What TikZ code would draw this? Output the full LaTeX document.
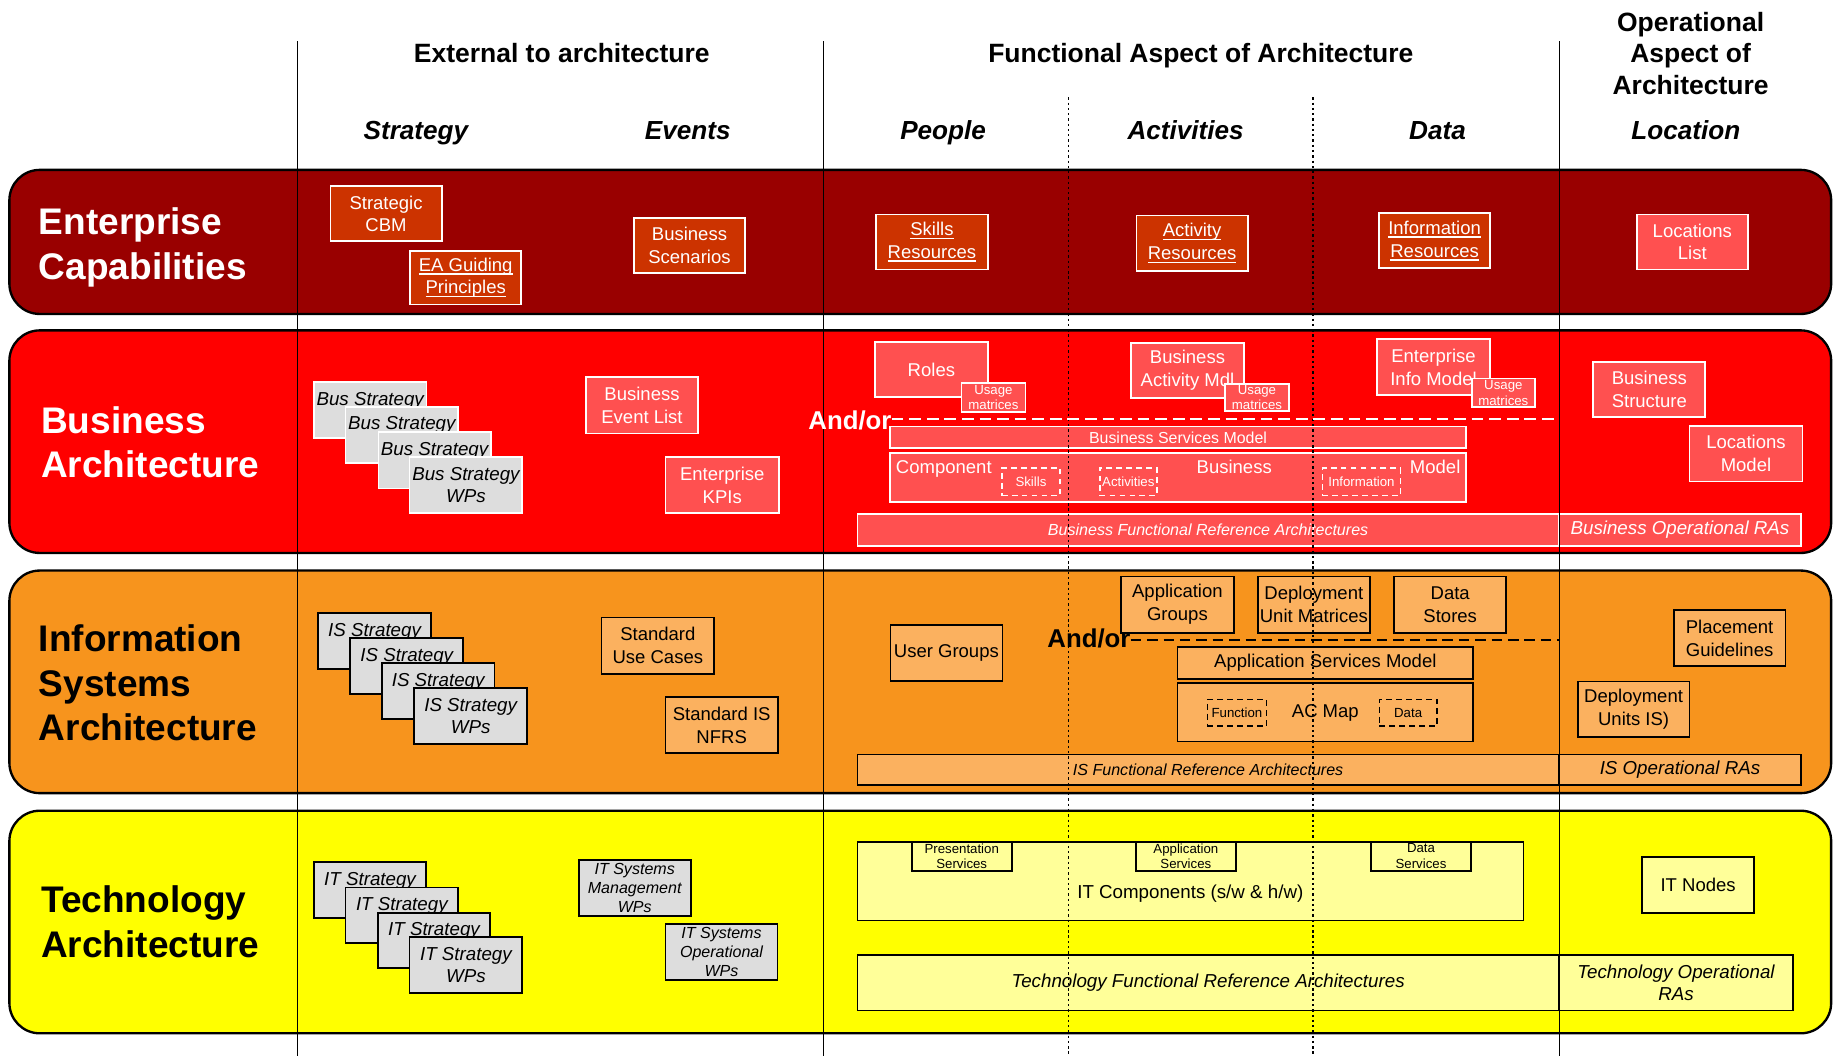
\documentclass[tikz,border=0pt]{standalone}
\usepackage{fontspec}
\setmainfont{Liberation Sans}
\definecolor{encol}{HTML}{990000}
\definecolor{enfill}{HTML}{CC3300}
\definecolor{bacol}{HTML}{FF0000}
\definecolor{bafill}{HTML}{FF5050}
\definecolor{iscol}{HTML}{F7941D}
\definecolor{isfill}{HTML}{FBB15F}
\definecolor{tecol}{HTML}{FFFF00}
\definecolor{tefill}{HTML}{FFFF99}
\definecolor{grfill}{HTML}{DDDDDD}
\newcommand\fsz[2]{\fontsize{#1}{#2}\selectfont}
\newcommand\myul[1]{\leavevmode\setbox0\hbox{#1}\rlap{\rule[-3pt]{\wd0}{1.2pt}}\box0}
\newcommand\BX[7]{\node[#1, minimum width={(#5)-(#3)}, minimum height={(#6)-(#4)}] (#2) at ({((#3)+(#5))/2},{((#4)+(#6))/2}) {#7};}
\begin{document}
\begin{tikzpicture}[x=1pt,y=-1pt,
  band/.style={draw=black, line width=2pt, rounded corners=26pt, inner sep=0},
  box/.style={inner sep=0, align=center, line width=1.5pt, font=\fsz{15.8}{19.5}},
  enb/.style={box, draw=white, fill=enfill, text=white},
  bab/.style={box, draw=white, fill=bafill, text=white},
  isb/.style={box, draw=black, fill=isfill, text=black},
  teb/.style={box, draw=black, fill=tefill, text=black},
  gw/.style={box, draw=white, fill=grfill, text=black, font=\fsz{16}{19.5}\itshape},
  gk/.style={box, draw=black, fill=grfill, text=black, font=\fsz{16}{19}\itshape},
  small/.style={font=\fsz{11.3}{13.4}},
  itl/.style={font=\fsz{13.7}{16}\itshape},
  itb/.style={font=\fsz{16}{18.5}\itshape},
  dbw/.style={box, draw=white, dash pattern=on 5pt off 3.5pt, line width=1.5pt, text=white, font=\fsz{11.3}{13}},
  dbk/.style={box, draw=black, dash pattern=on 5pt off 3.5pt, line width=1.5pt, text=black, font=\fsz{11.3}{13}},
  lab/.style={font=\fsz{31.6}{38}\bfseries, align=left, inner sep=0, anchor=west},
  hdr/.style={font=\fsz{22.6}{27}\bfseries, inner sep=0, align=center},
  col/.style={font=\fsz{22.3}{27}\bfseries\itshape, inner sep=0, anchor=base},
  andor/.style={font=\fsz{22}{27}\bfseries, inner sep=0, anchor=base},
  vline/.style={line width=1.4pt, black},
  dline/.style={line width=1.6pt, black, dash pattern=on 2pt off 2.5pt},
  plain/.style={inner sep=0, font=\fsz{15.8}{19.5}}
]
\useasboundingbox (0,0) rectangle (1568,901);
\fill[white] (0,0) rectangle (1568,901);

% headers
\node[hdr, anchor=base] (hExt) at (479.5,53.5) {External to architecture};
\node[hdr, anchor=base] (hFun) at (1025,53.5) {Functional Aspect of Architecture};
\node[hdr] (hOp) at (1443,45.5) {Operational\\Aspect of\\Architecture};
\node[col] (cStr) at (355,119.5) {Strategy};
\node[col] (cEv) at (587,119.5) {Events};
\node[col] (cPe) at (805,119.5) {People};
\node[col] (cAc) at (1012,119.5) {Activities};
\node[col] (cDa) at (1227,119.5) {Data};
\node[col] (cLo) at (1439,119.5) {Location};

% bands
\BX{band, fill=encol}{bandE}{8}{145}{1563}{268}{}
\BX{band, fill=bacol}{bandB}{8}{282}{1563}{472}{}
\BX{band, fill=iscol}{bandI}{8}{487}{1563}{677}{}
\BX{band, fill=tecol}{bandT}{8}{692}{1563}{882}{}

\node[lab, text=white] (lE) at (33,211) {Enterprise\\Capabilities};
\node[lab, text=white] (lB) at (35,377.5) {Business\\Architecture};
\node[lab, text=black] (lI) at (33,583) {Information\\Systems\\Architecture};
\node[lab, text=black] (lT) at (35,787) {Technology\\Architecture};

% Enterprise capabilities
\BX{enb}{eCBM}{282}{159}{377}{206}{Strategic\\CBM}
\BX{enb}{eEAG}{350}{214}{445}{260}{\myul{EA Guiding}\\\myul{Principles}}
\BX{enb}{eBS}{541}{186}{636}{233}{Business\\Scenarios}
\BX{enb}{eSR}{748}{183}{843}{230}{\myul{Skills}\\\myul{Resources}}
\BX{enb}{eAR}{970}{184}{1065}{231}{\myul{Activity}\\\myul{Resources}}
\BX{enb}{eIR}{1177}{182}{1272}{229}{\myul{Information}\\\myul{Resources}}
\BX{bab}{eLL}{1397}{183}{1492}{230}{Locations\\List}

% Business architecture
\BX{gw}{bS1}{268}{326}{364}{374}{Bus Strategy\\WPs}
\BX{gw}{bS2}{295}{347.5}{391}{395}{Bus Strategy\\WPs}
\BX{gw}{bS3}{323}{369}{419}{417}{Bus Strategy\\WPs}
\BX{gw}{bS4}{349.6}{390}{445.8}{438}{Bus Strategy\\WPs}
\BX{bab}{bEL}{500}{322}{596}{370}{Business\\Event List}
\BX{bab}{bKPI}{568}{390}{665}{438}{Enterprise\\KPIs}
\BX{bab}{bRo}{747}{292}{843}{339}{Roles}
\BX{bab, small}{bRoU}{820.6}{327}{875.3}{351.4}{Usage\\matrices}
\BX{bab}{bBAM}{965.6}{292.5}{1061.6}{340}{Business\\Activity Mdl}
\BX{bab, small}{bBAMU}{1045.8}{327.8}{1100}{350.8}{Usage\\matrices}
\BX{bab}{bEIM}{1175.6}{289.6}{1271.6}{337}{Enterprise\\Info Model}
\BX{bab, small}{bEIMU}{1256.4}{323}{1310}{347.4}{Usage\\matrices}
\BX{bab}{bBSt}{1360}{308.7}{1455.6}{356.2}{Business\\Structure}
\BX{bab}{bLM}{1442}{363.6}{1538.6}{411}{Locations\\Model}
\BX{bab, font=\fsz{13.6}{16}}{bBSM}{759.7}{364}{1251.3}{382.7}{Business Services Model}
\BX{bab}{bCBM}{759.7}{386.4}{1251.3}{428.2}{}
\node[plain, text=white, anchor=base] (bCBMa) at (805.6,404) {Component};
\node[plain, text=white, anchor=base] (bCBMb) at (1053.5,404) {Business};
\node[plain, text=white, anchor=base] (bCBMc) at (1225,404) {Model};
\BX{dbw}{bSk}{855}{399.7}{905}{423}{Skills}
\BX{dbw}{bAc}{938.6}{399.7}{987.6}{423}{Activities}
\BX{dbw}{bIn}{1128.8}{399.7}{1195.4}{423}{Information}
\BX{bab, itl}{bFRA}{732}{439}{1330.4}{466}{Business Functional Reference Architectures}
\BX{bab, itb}{bORA}{1330.4}{439}{1537.5}{466}{Business Operational RAs}

% Information systems architecture
\BX{gk}{iS1}{271.5}{523}{368}{571}{IS Strategy\\WPs}
\BX{gk}{iS2}{299}{544.3}{395.4}{592.4}{IS Strategy\\WPs}
\BX{gk}{iS3}{326}{566}{422}{613.7}{IS Strategy\\WPs}
\BX{gk}{iS4}{353.5}{587}{450}{635}{IS Strategy\\WPs}
\BX{isb}{iSUC}{513.4}{527}{609.6}{575}{Standard\\Use Cases}
\BX{isb}{iNFR}{568}{595}{664}{643}{Standard IS\\NFRS}
\BX{isb}{iUG}{760}{533.5}{855.6}{581}{User Groups}
\BX{isb}{iAG}{957}{492}{1053}{540}{Application\\Groups}
\BX{isb}{iDUM}{1073.5}{492}{1169.4}{540}{Deployment\\Unit Matrices}
\BX{isb}{iDS}{1190}{492}{1285.7}{540}{Data\\Stores}
\BX{isb}{iASM}{1005}{552.5}{1257.5}{579.6}{Application Services Model}
\BX{isb}{iACM}{1005}{583.3}{1257.5}{633}{AC Map}
\BX{dbk}{iFn}{1030.6}{597}{1081}{620}{Function}
\BX{dbk}{iDa}{1177.4}{597}{1226.5}{620}{Data}
\BX{isb}{iPG}{1428.6}{520.7}{1524}{568.5}{Placement\\Guidelines}
\BX{isb}{iDU}{1346.7}{581.8}{1442}{628.8}{Deployment\\Units IS)}
\BX{isb, itl}{iFRA}{732}{644}{1330.4}{670}{IS Functional Reference Architectures}
\BX{isb, itb}{iORA}{1330.4}{644}{1537.5}{670}{IS Operational RAs}

% Technology architecture
\BX{gk}{tS1}{268}{735.8}{363.7}{783.5}{IT Strategy\\WPs}
\BX{gk}{tS2}{295}{757.6}{391}{805}{IT Strategy\\WPs}
\BX{gk}{tS3}{322.6}{779}{418.3}{826.5}{IT Strategy\\WPs}
\BX{gk}{tS4}{349.6}{800}{445.8}{847.8}{IT Strategy\\WPs}
\BX{gk, font=\fsz{13.7}{16}\itshape}{tSMW}{493.9}{734}{589.6}{781.8}{IT Systems\\Management\\WPs}
\BX{gk, font=\fsz{13.7}{16}\itshape}{tSOW}{568}{788.7}{663.7}{836.5}{IT Systems\\Operational\\WPs}
\BX{teb}{tITC}{732}{718.4}{1300.4}{785.8}{}
\node[plain, font=\fsz{16}{19}] (tITCt) at (1016,763) {IT Components (s/w \& h/w)};
\BX{teb, small}{tPS}{778.3}{718.4}{863.5}{743.5}{Presentation\\Services}
\BX{teb, small}{tAS}{969.6}{718.4}{1054.8}{743.5}{Application\\Services}
\BX{teb, small}{tDS}{1170}{718.4}{1255.8}{743.5}{Data\\Services}
\BX{teb}{tITN}{1401.5}{731.8}{1497.4}{779.6}{IT Nodes}
\BX{teb, itb}{tFRA}{732}{815}{1330.4}{862.6}{Technology Functional Reference Architectures}
\BX{teb, itb}{tORA}{1330.4}{815}{1530.7}{862.6}{Technology Operational\\RAs}

% column dividers
\draw[vline] (254,35) -- (254,901);
\draw[vline] (703,35) -- (703,901);
\draw[vline] (1331,35) -- (1331,901);
\draw[dline] (912,83) -- (912,901);
\draw[dline] (1121,83) -- (1121,901);

% and/or separators
\coordinate (aoBe) at (1331,357.6);
\coordinate (aoIe) at (1331,546.3);
\node[andor, text=white] (aoB) at (725.5,367) {And/or};
\draw[white, line width=2pt, dash pattern=on 10pt off 5pt] (aoB.east |- aoBe) -- (aoBe);
\node[andor, text=black] (aoI) at (929.5,553) {And/or};
\draw[black, line width=2pt, dash pattern=on 9pt off 5pt] (aoI.east |- aoIe) -- (aoIe);
\end{tikzpicture}
\end{document}
